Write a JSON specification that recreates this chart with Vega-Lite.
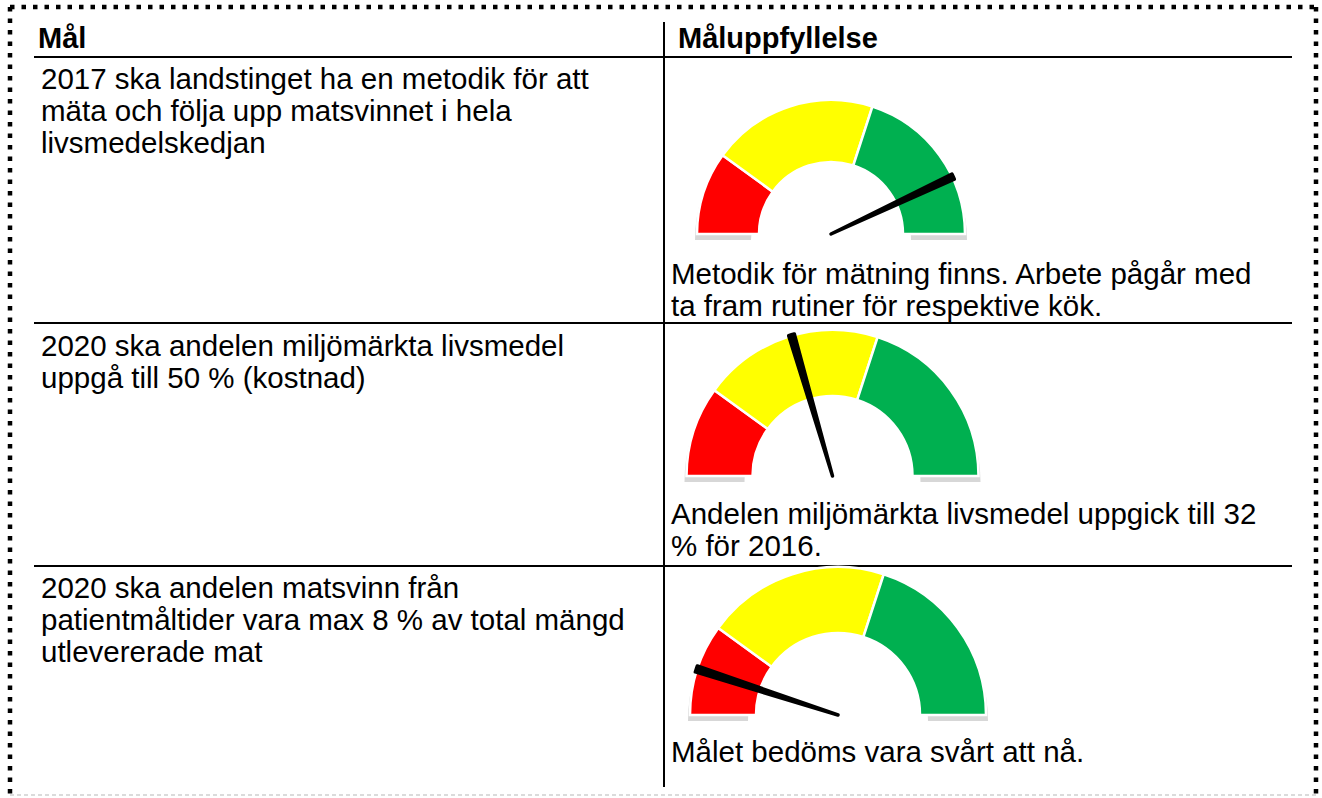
{
  "$schema": "https://vega.github.io/schema/vega-lite/v6.json",
  "width": 1322,
  "height": 798,
  "autosize": "none",
  "padding": 0,
  "background": "white",
  "config": {"view": {"stroke": null}, "font": "Liberation Sans"},
  "datasets": {
    "headers": [
      {"col": "Mål", "text": "Mål"},
      {"col": "Måluppfyllelse", "text": "Måluppfyllelse"}
    ],
    "texts": [
      {"order": 1, "col": "Mål", "text": "2017 ska landstinget ha en metodik för att"},
      {"order": 2, "col": "Mål", "text": "mäta och följa upp matsvinnet i hela"},
      {"order": 3, "col": "Mål", "text": "livsmedelskedjan"},
      {"order": 4, "col": "Måluppfyllelse", "text": "Metodik för mätning finns. Arbete pågår med"},
      {"order": 5, "col": "Måluppfyllelse", "text": "ta fram rutiner för respektive kök."},
      {"order": 6, "col": "Mål", "text": "2020 ska andelen miljömärkta livsmedel"},
      {"order": 7, "col": "Mål", "text": "uppgå till 50 % (kostnad)"},
      {"order": 8, "col": "Måluppfyllelse", "text": "Andelen miljömärkta livsmedel uppgick till 32"},
      {"order": 9, "col": "Måluppfyllelse", "text": "% för 2016."},
      {"order": 10, "col": "Mål", "text": "2020 ska andelen matsvinn från"},
      {"order": 11, "col": "Mål", "text": "patientmåltider vara max 8 % av total mängd"},
      {"order": 12, "col": "Mål", "text": "utlevererade mat"},
      {"order": 13, "col": "Måluppfyllelse", "text": "Målet bedöms vara svårt att nå."}
    ],
    "segments": [
      {"gauge": 1, "band": "red", "start": 0, "end": 20},
      {"gauge": 1, "band": "yellow", "start": 20, "end": 60},
      {"gauge": 1, "band": "green", "start": 60, "end": 100},
      {"gauge": 2, "band": "red", "start": 0, "end": 20},
      {"gauge": 2, "band": "yellow", "start": 20, "end": 60},
      {"gauge": 2, "band": "green", "start": 60, "end": 100},
      {"gauge": 3, "band": "red", "start": 0, "end": 20},
      {"gauge": 3, "band": "yellow", "start": 20, "end": 60},
      {"gauge": 3, "band": "green", "start": 60, "end": 100}
    ],
    "needles": [
      {"gauge": 1, "value": 86},
      {"gauge": 2, "value": 41},
      {"gauge": 3, "value": 10}
    ],
    "hlines": [{"sep": 0}, {"sep": 1}, {"sep": 2}],
    "vlines": [{"boundary": 1}],
    "border": [
      {"edge": "top", "xa": 0, "xb": 1, "ya": 0, "yb": 0},
      {"edge": "left", "xa": 0, "xb": 0, "ya": 0, "yb": 1},
      {"edge": "right", "xa": 1, "xb": 1, "ya": 0, "yb": 1}
    ],
    "borderBottom": [{"edge": "bottom", "xa": 0, "xb": 1, "ya": 1, "yb": 1}]
  },
  "resolve": {"scale": {"x": "independent", "y": "independent", "theta": "independent", "color": "independent"}},
  "layer": [
    {
      "data": {"name": "border"},
      "mark": {"type": "rule", "color": "#000000", "strokeWidth": 4.5, "strokeDash": [4.5, 7]},
      "encoding": {
        "x": {"field": "xa", "type": "quantitative", "scale": {"domain": [0, 1], "range": [10, 1316], "nice": false, "zero": false}, "axis": null},
        "x2": {"field": "xb"},
        "y": {"field": "ya", "type": "quantitative", "scale": {"domain": [0, 1], "range": [7, 795], "nice": false, "zero": false}, "axis": null},
        "y2": {"field": "yb"}
      }
    },
    {
      "data": {"name": "borderBottom"},
      "mark": {"type": "rule", "color": "#cfcfcf", "strokeWidth": 1.5, "strokeDash": [4, 3]},
      "encoding": {
        "x": {"field": "xa", "type": "quantitative", "scale": {"domain": [0, 1], "range": [10, 1316], "nice": false, "zero": false}, "axis": null},
        "x2": {"field": "xb"},
        "y": {"field": "ya", "type": "quantitative", "scale": {"domain": [0, 1], "range": [7, 795], "nice": false, "zero": false}, "axis": null},
        "y2": {"field": "yb"}
      }
    },
    {
      "data": {"name": "hlines"},
      "mark": {"type": "rule", "color": "#000000", "strokeWidth": 2},
      "encoding": {
        "y": {"field": "sep", "type": "quantitative", "scale": {"domain": [0, 1, 2], "range": [57, 323, 566], "nice": false, "zero": false}, "axis": null},
        "x": {"datum": 0, "type": "quantitative", "scale": {"domain": [0, 1], "range": [34, 1292], "nice": false, "zero": false}, "axis": null},
        "x2": {"datum": 1}
      }
    },
    {
      "data": {"name": "vlines"},
      "mark": {"type": "rule", "color": "#000000", "strokeWidth": 2},
      "encoding": {
        "x": {"field": "boundary", "type": "quantitative", "scale": {"domain": [0, 1, 2], "range": [34, 664, 1292], "nice": false, "zero": false}, "axis": null},
        "y": {"datum": 0, "type": "quantitative", "scale": {"domain": [0, 1], "range": [22, 787], "nice": false, "zero": false}, "axis": null},
        "y2": {"datum": 1}
      }
    },
    {
      "data": {"name": "headers"},
      "mark": {"type": "text", "align": "left", "baseline": "alphabetic", "font": "Liberation Sans", "fontSize": 29, "fontWeight": "bold", "color": "#000000", "dx": 10},
      "encoding": {
        "x": {"field": "col", "type": "nominal", "bandPosition": 0, "scale": {"type": "band", "domain": ["Mål", "Måluppfyllelse"], "range": [28, 1308], "paddingInner": 0, "paddingOuter": 0}, "axis": null},
        "y": {"datum": 0, "type": "quantitative", "scale": {"domain": [0, 1], "range": [48, 88], "nice": false, "zero": false}, "axis": null},
        "text": {"field": "text"}
      }
    },
    {
      "data": {"name": "texts"},
      "mark": {"type": "text", "align": "left", "baseline": "alphabetic", "font": "Liberation Sans", "fontSize": 29.5, "color": "#000000", "dx": 8},
      "encoding": {
        "x": {"field": "col", "type": "nominal", "bandPosition": 0, "scale": {"type": "band", "domain": ["Mål", "Måluppfyllelse"], "range": [33, 1293], "paddingInner": 0, "paddingOuter": 0}, "axis": null},
        "y": {"field": "order", "type": "quantitative", "scale": {"domain": [1, 2, 3, 4, 5, 6, 7, 8, 9, 10, 11, 12, 13], "range": [89, 121, 153, 284, 316, 356, 388, 524, 556, 598, 630, 662, 762], "nice": false, "zero": false}, "axis": null},
        "text": {"field": "text"}
      }
    },
    {
      "data": {"name": "segments"},
      "transform": [{"filter": "datum.gauge == 1"}],
      "mark": {"type": "arc", "outerRadius": 136, "innerRadius": 80, "color": "#8c8c8c", "opacity": 0.35, "yOffset": 6},
      "encoding": {
        "x": {"field": "gauge", "type": "quantitative", "scale": {"domain": [1, 2, 3], "range": [831, 832.5, 838], "nice": false, "zero": false}, "axis": null},
        "y": {"field": "gauge", "type": "quantitative", "scale": {"domain": [1, 2, 3], "range": [234, 476, 715], "nice": false, "zero": false}, "axis": null},
        "theta": {"field": "start", "type": "quantitative", "stack": null, "scale": {"domain": [0, 100], "range": [-1.5708, 1.5708]}},
        "theta2": {"field": "end"}
      }
    },
    {
      "data": {"name": "segments"},
      "transform": [{"filter": "datum.gauge == 2"}],
      "mark": {"type": "arc", "outerRadius": 148, "innerRadius": 88, "color": "#8c8c8c", "opacity": 0.35, "yOffset": 6},
      "encoding": {
        "x": {"field": "gauge", "type": "quantitative", "scale": {"domain": [1, 2, 3], "range": [831, 832.5, 838], "nice": false, "zero": false}, "axis": null},
        "y": {"field": "gauge", "type": "quantitative", "scale": {"domain": [1, 2, 3], "range": [234, 476, 715], "nice": false, "zero": false}, "axis": null},
        "theta": {"field": "start", "type": "quantitative", "stack": null, "scale": {"domain": [0, 100], "range": [-1.5708, 1.5708]}},
        "theta2": {"field": "end"}
      }
    },
    {
      "data": {"name": "segments"},
      "transform": [{"filter": "datum.gauge == 3"}],
      "mark": {"type": "arc", "outerRadius": 150, "innerRadius": 90, "color": "#8c8c8c", "opacity": 0.35, "yOffset": 6},
      "encoding": {
        "x": {"field": "gauge", "type": "quantitative", "scale": {"domain": [1, 2, 3], "range": [831, 832.5, 838], "nice": false, "zero": false}, "axis": null},
        "y": {"field": "gauge", "type": "quantitative", "scale": {"domain": [1, 2, 3], "range": [234, 476, 715], "nice": false, "zero": false}, "axis": null},
        "theta": {"field": "start", "type": "quantitative", "stack": null, "scale": {"domain": [0, 100], "range": [-1.5708, 1.5708]}},
        "theta2": {"field": "end"}
      }
    },
    {
      "data": {"name": "segments"},
      "transform": [{"filter": "datum.gauge == 1"}],
      "mark": {"type": "arc", "outerRadius": 134, "innerRadius": 72, "stroke": "#ffffff", "strokeWidth": 2.5},
      "encoding": {
        "x": {"field": "gauge", "type": "quantitative", "scale": {"domain": [1, 2, 3], "range": [831, 832.5, 838], "nice": false, "zero": false}, "axis": null},
        "y": {"field": "gauge", "type": "quantitative", "scale": {"domain": [1, 2, 3], "range": [234, 476, 715], "nice": false, "zero": false}, "axis": null},
        "theta": {"field": "start", "type": "quantitative", "stack": null, "scale": {"domain": [0, 100], "range": [-1.5708, 1.5708]}},
        "theta2": {"field": "end"},
        "color": {"field": "band", "type": "nominal", "scale": {"domain": ["red", "yellow", "green"], "range": ["#ff0000", "#ffff00", "#00b050"]}, "legend": null}
      }
    },
    {
      "data": {"name": "segments"},
      "transform": [{"filter": "datum.gauge == 2"}],
      "mark": {"type": "arc", "outerRadius": 146, "innerRadius": 80, "stroke": "#ffffff", "strokeWidth": 2.5},
      "encoding": {
        "x": {"field": "gauge", "type": "quantitative", "scale": {"domain": [1, 2, 3], "range": [831, 832.5, 838], "nice": false, "zero": false}, "axis": null},
        "y": {"field": "gauge", "type": "quantitative", "scale": {"domain": [1, 2, 3], "range": [234, 476, 715], "nice": false, "zero": false}, "axis": null},
        "theta": {"field": "start", "type": "quantitative", "stack": null, "scale": {"domain": [0, 100], "range": [-1.5708, 1.5708]}},
        "theta2": {"field": "end"},
        "color": {"field": "band", "type": "nominal", "scale": {"domain": ["red", "yellow", "green"], "range": ["#ff0000", "#ffff00", "#00b050"]}, "legend": null}
      }
    },
    {
      "data": {"name": "segments"},
      "transform": [{"filter": "datum.gauge == 3"}],
      "mark": {"type": "arc", "outerRadius": 148, "innerRadius": 82, "stroke": "#ffffff", "strokeWidth": 2.5},
      "encoding": {
        "x": {"field": "gauge", "type": "quantitative", "scale": {"domain": [1, 2, 3], "range": [831, 832.5, 838], "nice": false, "zero": false}, "axis": null},
        "y": {"field": "gauge", "type": "quantitative", "scale": {"domain": [1, 2, 3], "range": [234, 476, 715], "nice": false, "zero": false}, "axis": null},
        "theta": {"field": "start", "type": "quantitative", "stack": null, "scale": {"domain": [0, 100], "range": [-1.5708, 1.5708]}},
        "theta2": {"field": "end"},
        "color": {"field": "band", "type": "nominal", "scale": {"domain": ["red", "yellow", "green"], "range": ["#ff0000", "#ffff00", "#00b050"]}, "legend": null}
      }
    },
    {
      "data": {"name": "needles"},
      "transform": [{"filter": "datum.gauge == 1"}],
      "mark": {"type": "arc", "outerRadius": 135, "innerRadius": 0, "thetaOffset": -0.021, "theta2Offset": 0.021, "fill": "#000000", "stroke": "#000000", "strokeWidth": 3.5, "strokeJoin": "round"},
      "encoding": {
        "x": {"field": "gauge", "type": "quantitative", "scale": {"domain": [1, 2, 3], "range": [831, 832.5, 838], "nice": false, "zero": false}, "axis": null},
        "y": {"field": "gauge", "type": "quantitative", "scale": {"domain": [1, 2, 3], "range": [234, 476, 715], "nice": false, "zero": false}, "axis": null},
        "theta": {"field": "value", "type": "quantitative", "stack": null, "scale": {"domain": [0, 100], "range": [-1.5708, 1.5708]}},
        "theta2": {"field": "value"}
      }
    },
    {
      "data": {"name": "needles"},
      "transform": [{"filter": "datum.gauge == 2"}],
      "mark": {"type": "arc", "outerRadius": 147, "innerRadius": 0, "thetaOffset": -0.02, "theta2Offset": 0.02, "fill": "#000000", "stroke": "#000000", "strokeWidth": 3.5, "strokeJoin": "round"},
      "encoding": {
        "x": {"field": "gauge", "type": "quantitative", "scale": {"domain": [1, 2, 3], "range": [831, 832.5, 838], "nice": false, "zero": false}, "axis": null},
        "y": {"field": "gauge", "type": "quantitative", "scale": {"domain": [1, 2, 3], "range": [234, 476, 715], "nice": false, "zero": false}, "axis": null},
        "theta": {"field": "value", "type": "quantitative", "stack": null, "scale": {"domain": [0, 100], "range": [-1.5708, 1.5708]}},
        "theta2": {"field": "value"}
      }
    },
    {
      "data": {"name": "needles"},
      "transform": [{"filter": "datum.gauge == 3"}],
      "mark": {"type": "arc", "outerRadius": 149, "innerRadius": 0, "thetaOffset": -0.021, "theta2Offset": 0.021, "fill": "#000000", "stroke": "#000000", "strokeWidth": 3.5, "strokeJoin": "round"},
      "encoding": {
        "x": {"field": "gauge", "type": "quantitative", "scale": {"domain": [1, 2, 3], "range": [831, 832.5, 838], "nice": false, "zero": false}, "axis": null},
        "y": {"field": "gauge", "type": "quantitative", "scale": {"domain": [1, 2, 3], "range": [234, 476, 715], "nice": false, "zero": false}, "axis": null},
        "theta": {"field": "value", "type": "quantitative", "stack": null, "scale": {"domain": [0, 100], "range": [-1.5708, 1.5708]}},
        "theta2": {"field": "value"}
      }
    }
  ]
}
